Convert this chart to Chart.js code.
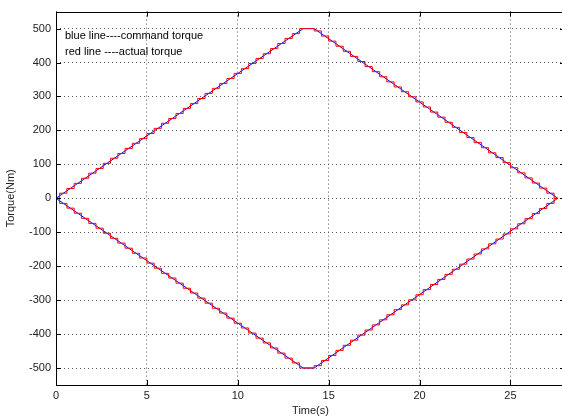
<!DOCTYPE html>
<html>
<head>
<meta charset="utf-8">
<script src="https://cdn.jsdelivr.net/npm/chart.js@4.4.1/dist/chart.umd.min.js"></script>
<style>
  html, body { margin: 0; padding: 0; background: #fff; overflow: hidden; }
  #wrap { position: relative; width: 570px; height: 419px; }
</style>
</head>
<body>
<div id="wrap"><canvas id="myChart"></canvas></div>
<script>
// axis ticks
var xTicks = [0, 5, 10, 15, 20, 25];
var yTicks = [-500, -400, -300, -200, -100, 0, 100, 200, 300, 400, 500];

// command torque (blue), corner points
var cmdTime  = [0, 13.6, 14.2, 27.6];
var cmdUpper = [0, 500, 500, 0];
var cmdLower = [0, -500, -500, 0];

// actual torque (red), sampled every 0.4 s
var actTime = [0, 0.4, 0.8, 1.2, 1.6, 2.0, 2.4, 2.8, 3.2, 3.6,
  4.0, 4.4, 4.8, 5.2, 5.6, 6.0, 6.4, 6.8, 7.2, 7.6,
  8.0, 8.4, 8.8, 9.2, 9.6, 10.0, 10.4, 10.8, 11.2, 11.6,
  12.0, 12.4, 12.8, 13.2, 13.6, 14.0, 14.4, 14.8, 15.2, 15.6,
  16.0, 16.4, 16.8, 17.2, 17.6, 18.0, 18.4, 18.8, 19.2, 19.6,
  20.0, 20.4, 20.8, 21.2, 21.6, 22.0, 22.4, 22.8, 23.2, 23.6,
  24.0, 24.4, 24.8, 25.2, 25.6, 26.0, 26.4, 26.8, 27.2, 27.6];
var actUpper = [0, 15, 29, 44, 59, 74, 88, 103, 118, 132,
  147, 162, 176, 191, 206, 221, 235, 250, 265, 279,
  294, 309, 324, 338, 353, 368, 382, 397, 412, 426,
  441, 456, 471, 485, 500, 500, 493, 478, 463, 448,
  433, 418, 403, 388, 373, 358, 343, 328, 314, 299,
  284, 269, 254, 239, 224, 209, 194, 179, 164, 149,
  134, 120, 105, 90, 75, 60, 45, 30, 15, 0];
var actLower = [0, -15, -29, -44, -59, -74, -88, -103, -118, -132,
  -147, -162, -176, -191, -206, -221, -235, -250, -265, -279,
  -294, -309, -324, -338, -353, -368, -382, -397, -412, -426,
  -441, -456, -471, -485, -500, -500, -493, -478, -463, -448,
  -433, -418, -403, -388, -373, -358, -343, -328, -314, -299,
  -284, -269, -254, -239, -224, -209, -194, -179, -164, -149,
  -134, -120, -105, -90, -75, -60, -45, -30, -15, 0];

var legendLines = ['blue line----command torque', 'red line ----actual torque'];

function pts(xs, ys){
  return xs.map(function(x, i){ return {x: x, y: ys[i]}; });
}

var fontFam = '"Liberation Sans", Arial, sans-serif';

// box, inward ticks and text note
var matlabBox = {
  id: 'matlabBox',
  afterDraw: function(chart){
    var ctx = chart.ctx;
    var a = chart.chartArea;
    var xs = chart.scales.x, ys = chart.scales.y;
    ctx.save();
    ctx.strokeStyle = '#000';
    ctx.lineWidth = 1;
    ctx.setLineDash([]);
    ctx.strokeRect(Math.round(a.left) + 0.5, Math.round(a.top) + 0.5,
      Math.round(a.right - a.left), Math.round(a.bottom - a.top));
    ctx.beginPath();
    xTicks.forEach(function(v){
      var px = Math.round(xs.getPixelForValue(v)) + 0.5;
      ctx.moveTo(px, a.bottom); ctx.lineTo(px, a.bottom - 5);
      ctx.moveTo(px, a.top); ctx.lineTo(px, a.top + 5);
    });
    yTicks.forEach(function(v){
      var py = Math.round(ys.getPixelForValue(v)) + 0.5;
      ctx.moveTo(a.left, py); ctx.lineTo(a.left + 5, py);
      ctx.moveTo(a.right, py); ctx.lineTo(a.right - 5, py);
    });
    ctx.stroke();
    ctx.fillStyle = '#000';
    ctx.font = '11px ' + fontFam;
    ctx.textBaseline = 'middle';
    ctx.fillText(legendLines[0], 65, 36);
    ctx.fillText(legendLines[1], 65, 52);
    ctx.restore();
  }
};

var config = {
  type: 'line',
  data: {
    datasets: [
      { label: 'command torque', data: pts(cmdTime, cmdUpper), borderColor: '#0000ff', borderWidth: 1, pointRadius: 0, order: 2 },
      { label: 'command torque 2', data: pts(cmdTime, cmdLower), borderColor: '#0000ff', borderWidth: 1, pointRadius: 0, order: 2 },
      { label: 'actual torque', data: pts(actTime, actUpper), borderColor: '#ff0000', borderWidth: 1, pointRadius: 0, stepped: 'middle', order: 1 },
      { label: 'actual torque 2', data: pts(actTime, actLower), borderColor: '#ff0000', borderWidth: 1, pointRadius: 0, stepped: 'middle', order: 1 }
    ]
  },
  options: {
    responsive: true,
    maintainAspectRatio: false,
    animation: false,
    events: [],
    layout: { padding: { top: 8, right: 5, left: 0, bottom: 0 } },
    plugins: { legend: { display: false }, tooltip: { enabled: false } },
    scales: {
      x: {
        type: 'linear',
        min: 0, max: 28,
        afterBuildTicks: function(s){ s.ticks = xTicks.map(function(v){ return {value: v}; }); },
        afterFit: function(s){ s.height = 34; },
        grid: { color: '#555', lineWidth: 1, drawTicks: false },
        border: { display: false, dash: [1, 3] },
        ticks: { padding: 4, color: '#222', font: { size: 11, family: fontFam }, maxRotation: 0 },
        title: { display: true, text: 'Time(s)', color: '#222', padding: { top: 0, bottom: 1 }, font: { size: 11, family: fontFam } }
      },
      y: {
        min: -550, max: 550,
        afterBuildTicks: function(s){ s.ticks = yTicks.map(function(v){ return {value: v}; }); },
        afterFit: function(s){ s.width = 56; },
        grid: { color: '#555', lineWidth: 1, drawTicks: false },
        border: { display: false, dash: [1, 3] },
        ticks: { padding: 5, color: '#222', font: { size: 11, family: fontFam } },
        title: { display: true, text: 'Torque(Nm)', color: '#222', padding: { top: 4, bottom: 0 }, font: { size: 11, family: fontFam } }
      }
    }
  },
  plugins: [matlabBox]
};

var myChart = new Chart(document.getElementById('myChart'), config);
</script>
</body>
</html>
